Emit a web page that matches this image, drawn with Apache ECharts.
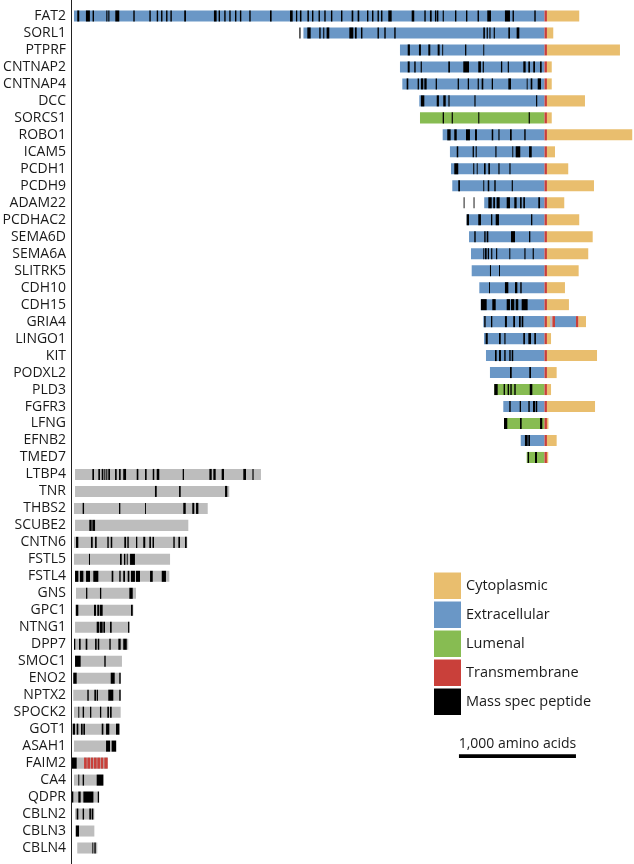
<!DOCTYPE html>
<html>
<head>
<meta charset="utf-8">
<script src="https://cdn.jsdelivr.net/npm/echarts@6/dist/echarts.min.js"></script>
<style>
html,body{margin:0;padding:0;background:#fff;}
#chart{width:634px;height:864px;}
</style>
</head>
<body>
<div id="chart"></div>
<script>
// ---- Proteins (rows) ----
const tmProteins = ['FAT2','SORL1','PTPRF','CNTNAP2','CNTNAP4','DCC','SORCS1','ROBO1','ICAM5','PCDH1','PCDH9','ADAM22','PCDHAC2','SEMA6D','SEMA6A','SLITRK5','CDH10','CDH15','GRIA4','LINGO1','KIT','PODXL2','PLD3','FGFR3','LFNG','EFNB2','TMED7'];
const secretedProteins = ['LTBP4','TNR','THBS2','SCUBE2','CNTN6','FSTL5','FSTL4','GNS','GPC1','NTNG1','DPP7','SMOC1','ENO2','NPTX2','SPOCK2','GOT1','ASAH1','FAIM2','CA4','QDPR','CBLN2','CBLN3','CBLN4'];
const categories = tmProteins.concat(secretedProteins);

// Axis in amino acids: membrane proteins relative to transmembrane start (0);
// secreted proteins counted from their N-terminus at the axis origin.
const AXIS_MIN = -4038;
const AXIS_MAX = 765;
const SECRETED_ORIGIN = -4038;
const scaleBar = [-731, 1000]; // start, length (amino acids)

// ---- Domains [protein, start, end] ----
const extracellular = [
  ['FAT2',-4021,0],['SORL1',-2060,0],['PTPRF',-1235,0],['CNTNAP2',-1235,0],['CNTNAP4',-1215,0],
  ['DCC',-1070,0],['ROBO1',-870,0],['ICAM5',-808,0],['PCDH1',-799,0],['PCDH9',-788,0],
  ['ADAM22',-515,0],['PCDHAC2',-665,0],['SEMA6D',-645,0],['SEMA6A',-628,0],['SLITRK5',-622,0],
  ['CDH10',-557,0],['CDH15',-545,0],['GRIA4',-523,0],['GRIA4',90,269],['LINGO1',-517,0],
  ['KIT',-500,0],['PODXL2',-466,0],['FGFR3',-352,0],['EFNB2',-203,0]
];
const lumenal = [['SORCS1',-1064,0],['PLD3',-429,0],['LFNG',-346,0],['TMED7',-152,0]];
const cytoplasmic = [
  ['FAT2',21,297],['SORL1',21,75],['PTPRF',21,645],['CNTNAP2',21,62],['CNTNAP4',21,62],
  ['DCC',21,346],['SORCS1',21,62],['ROBO1',21,750],['ICAM5',21,90],['PCDH1',21,203],
  ['PCDH9',21,423],['ADAM22',21,169],['PCDHAC2',21,297],['SEMA6D',21,412],['SEMA6A',21,374],
  ['SLITRK5',21,292],['CDH10',21,175],['CDH15',21,209],['GRIA4',21,47],['GRIA4',289,355],
  ['LINGO1',21,56],['KIT',21,449],['PODXL2',21,104],['PLD3',21,56],['FGFR3',21,432],
  ['LFNG',21,34],['EFNB2',21,104],['TMED7',21,32]
];
const transmembrane = tmProteins.map(n => [n,0,21]).concat([
  ['GRIA4',67,90],['GRIA4',269,289],
  ['FAIM2',103,126],['FAIM2',131,154],['FAIM2',160,182],['FAIM2',188,211],['FAIM2',216,239],['FAIM2',245,268],['FAIM2',276,305]
]);
const otherRegion = [
  ['GRIA4',47,67],
  ['LTBP4',26,1615],['TNR',26,1344],['THBS2',17,1160],['SCUBE2',26,994],['CNTN6',17,985],
  ['FSTL5',17,838],['FSTL4',26,832],['GNS',34,547],['GPC1',26,524],['NTNG1',26,490],
  ['DPP7',17,481],['SMOC1',26,427],['ENO2',11,416],['NPTX2',11,416],['SPOCK2',17,416],
  ['GOT1',6,410],['ASAH1',17,382],['FAIM2',0,305],['CA4',17,268],['QDPR',0,233],
  ['CBLN2',26,191],['CBLN3',26,191],['CBLN4',45,216]
];

// ---- Mass spec peptides [start, end] per protein ----
const peptides = {
  FAT2: [[-3993,-3976],[-3919,-3885],[-3862,-3850],[-3745,-3735],[-3728,-3718],[-3668,-3634],[-3514,-3502],[-3377,-3365],[-3314,-3302],[-3277,-3265],[-3234,-3222],[-3197,-3185],[-3079,-3064],[-2825,-2802],[-2785,-2773],[-2737,-2725],[-2694,-2682],[-2645,-2633],[-2603,-2591],[-2523,-2511],[-2346,-2332],[-2175,-2152],[-2124,-2113],[-2090,-2077],[-2026,-2013],[-1987,-1975],[-1931,-1919],[-1882,-1870],[-1825,-1813],[-1739,-1727],[-1648,-1634],[-1597,-1583],[-1517,-1505],[-1474,-1462],[-1427,-1415],[-1397,-1385],[-1335,-1306],[-1135,-1113],[-1027,-1015],[-979,-964],[-936,-924],[-919,-907],[-870,-860],[-765,-753],[-671,-659],[-572,-560],[-489,-457],[-338,-295],[-273,-261],[-87,-75]],
  SORL1: [[-2095,-2085],[-2027,-1998],[-1925,-1913],[-1891,-1882],[-1862,-1839],[-1668,-1634],[-1620,-1605],[-1568,-1556],[-1427,-1415],[-1369,-1357],[-1284,-1272],[-523,-509],[-494,-484],[-471,-461],[-434,-424],[-309,-295],[-238,-215]],
  PTPRF: [[-1169,-1150],[-1073,-1056],[-993,-976],[-913,-896],[-874,-866],[-679,-668],[-523,-515]],
  CNTNAP2: [[-1169,-1152],[-1113,-1101],[-1058,-1048],[-822,-808],[-694,-645],[-566,-543],[-528,-518],[-372,-361],[-314,-304],[-181,-161],[-138,-124],[-96,-81],[-38,-24]],
  CNTNAP4: [[-1178,-1164],[-1084,-1073],[-1056,-1036],[-1027,-1007],[-930,-919],[-742,-731],[-656,-645],[-571,-561],[-537,-523],[-451,-440],[-309,-286],[-152,-144],[-118,-104],[-58,-30]],
  DCC: [[-1056,-1027],[-921,-902],[-865,-844],[-821,-811],[-599,-589],[-72,-62]],
  SORCS1: [[-870,-859],[-793,-783],[-566,-557],[-135,-125]],
  ROBO1: [[-831,-802],[-771,-750],[-671,-637],[-594,-577],[-451,-438],[-394,-384],[-295,-280],[-173,-161]],
  ICAM5: [[-750,-737],[-614,-603],[-588,-579],[-420,-410],[-275,-267],[-246,-207],[-132,-109]],
  PCDH1: [[-771,-737],[-609,-600],[-579,-571],[-517,-503],[-480,-466],[-394,-384],[-300,-290]],
  PCDH9: [[-737,-722],[-523,-515],[-485,-472],[-429,-417],[-280,-270]],
  ADAM22: [[-691,-684],[-606,-599],[-480,-451],[-438,-423],[-409,-383],[-323,-295],[-258,-238],[-209,-195],[-181,-167],[-53,-38]],
  PCDHAC2: [[-665,-645],[-566,-543],[-457,-446],[-417,-389],[-115,-104]],
  SEMA6D: [[-600,-588],[-515,-503],[-494,-480],[-286,-252],[-132,-121]],
  SEMA6A: [[-523,-515],[-509,-494],[-485,-474],[-456,-446],[-414,-404],[-301,-292],[-172,-162],[-101,-91]],
  SLITRK5: [[-466,-457],[-389,-380]],
  CDH10: [[-474,-466],[-338,-309],[-252,-232],[-207,-195]],
  CDH15: [[-543,-494],[-446,-417],[-323,-295],[-286,-258],[-246,-224],[-195,-144]],
  GRIA4: [[-515,-503],[-457,-446],[-338,-321],[-267,-252],[-218,-203],[-195,-181]],
  LINGO1: [[-503,-485],[-389,-374],[-343,-333],[-181,-167],[-138,-115],[-87,-73]],
  KIT: [[-423,-409],[-389,-372],[-344,-332],[-301,-289],[-280,-267]],
  PODXL2: [[-295,-280],[-130,-115]],
  PLD3: [[-429,-400],[-349,-338],[-315,-303],[-292,-280],[-258,-246],[-126,-104]],
  FGFR3: [[-301,-289],[-212,-201],[-138,-126],[-98,-81],[-75,-62]],
  LFNG: [[-346,-318],[-209,-195],[-38,-19]],
  EFNB2: [[-167,-144],[-138,-124]],
  TMED7: [[-144,-132],[-81,-64]],
  LTBP4: [[174,188],[225,239],[254,268],[276,285],[293,302],[310,325],[368,382],[402,416],[438,462],[553,567],[624,638],[690,703],[724,746],[946,957],[1174,1194],[1208,1228],[1279,1299],[1464,1487],[1542,1552]],
  TNR: [[709,724],[915,929],[1308,1327]],
  THBS2: [[91,103],[402,413],[624,632],[951,972],[1028,1045],[1060,1080]],
  SCUBE2: [[148,168],[174,197]],
  CNTN6: [[34,54],[162,177],[197,211],[302,314],[331,344],[447,462],[473,485],[547,558],[609,626],[661,675],[688,701],[866,878],[909,923],[966,980]],
  FSTL5: [[145,154],[410,425],[444,456],[468,476],[496,538]],
  FSTL4: [[26,54],[68,97],[120,154],[182,225],[339,353],[404,416],[438,453],[476,490],[504,538],[547,581],[667,690],[767,803]],
  GNS: [[120,131],[239,250],[490,519]],
  GPC1: [[34,54],[188,205],[216,233],[239,262],[504,519]],
  NTNG1: [[211,233],[239,262],[268,282],[325,339],[479,490]],
  DPP7: [[17,28],[60,74],[117,131],[197,211],[220,233],[319,331],[396,416],[438,468]],
  SMOC1: [[26,74],[276,288]],
  ENO2: [[11,40],[331,365],[404,416]],
  NPTX2: [[131,143],[191,205],[211,222],[310,353],[404,416]],
  SPOCK2: [[54,62],[91,103],[154,165],[239,250],[302,316],[325,339]],
  GOT1: [[6,26],[40,54],[77,91],[97,111],[254,268],[291,319],[376,404]],
  ASAH1: [[291,325],[339,376]],
  FAIM2: [[0,40]],
  CA4: [[54,62],[91,103],[211,268]],
  QDPR: [[0,11],[54,74],[97,183],[220,231]],
  CBLN2: [[40,54],[91,103],[148,162],[168,182]],
  CBLN3: [[34,60]],
  CBLN4: [[174,182],[191,203]]
};

// ---- Colours ----
const COLORS = {
  Cytoplasmic: '#E9BE6E',
  Extracellular: '#6A97C6',
  Lumenal: '#87BC52',
  Transmembrane: '#C9403A',
  Peptide: '#000000',
  Other: '#BDBDBD'
};

function build(list) {
  return list.map(([n, s, e]) => {
    const off = secretedProteins.includes(n) ? SECRETED_ORIGIN : 0;
    return [categories.indexOf(n), s + off, e + off];
  });
}
const peptideList = [];
Object.keys(peptides).forEach(n => peptides[n].forEach(([s, e]) => peptideList.push([n, s, e])));

function renderItem(params, api) {
  const row = api.value(0);
  const p0 = api.coord([api.value(1), row]);
  const p1 = api.coord([api.value(2), row]);
  const h = api.size([0, 1])[1] * 0.65;
  return {
    type: 'rect',
    shape: { x: p0[0], y: p0[1] - h / 2, width: Math.max(p1[0] - p0[0], 0.9), height: h },
    style: api.style()
  };
}
function makeSeries(name, list, color) {
  return {
    type: 'custom', name: name, renderItem: renderItem,
    itemStyle: { color: color },
    encode: { x: [1, 2], y: 0 },
    data: build(list),
    animation: false, silent: true
  };
}

const chart = echarts.init(document.getElementById('chart'), null, { renderer: 'canvas' });
chart.setOption({
  animation: false,
  color: [COLORS.Other, COLORS.Extracellular, COLORS.Lumenal, COLORS.Cytoplasmic, COLORS.Transmembrane, COLORS.Peptide],
  grid: { left: 72, right: 0, top: 7.5, bottom: 7.5, containLabel: false, outerBoundsMode: 'none' },
  xAxis: { type: 'value', min: AXIS_MIN, max: AXIS_MAX, show: false },
  yAxis: {
    type: 'category', data: categories, inverse: true,
    axisLine: { show: false }, axisTick: { show: false }, splitLine: { show: false },
    axisLabel: { fontSize: 14, color: '#1a1a1a', fontFamily: 'Open Sans', margin: 6, interval: 0 }
  },
  legend: {
    data: ['Cytoplasmic', 'Extracellular', 'Lumenal', 'Transmembrane', 'Mass spec peptide'],
    orient: 'vertical', left: 434, top: 572.5, padding: 0,
    itemWidth: 27, itemHeight: 26.5, itemGap: 2.5, icon: 'rect', selectedMode: false,
    textStyle: { fontSize: 14.5, color: '#1a1a1a', fontFamily: 'Open Sans' }
  },
  series: [
    makeSeries('Other', otherRegion, COLORS.Other),
    makeSeries('Extracellular', extracellular, COLORS.Extracellular),
    makeSeries('Lumenal', lumenal, COLORS.Lumenal),
    makeSeries('Cytoplasmic', cytoplasmic, COLORS.Cytoplasmic),
    makeSeries('Transmembrane', transmembrane, COLORS.Transmembrane),
    makeSeries('Mass spec peptide', peptideList, COLORS.Peptide)
  ]
});

// Scale bar and left axis line
const x0 = chart.convertToPixel({ xAxisIndex: 0 }, scaleBar[0]);
const x1 = chart.convertToPixel({ xAxisIndex: 0 }, scaleBar[0] + scaleBar[1]);
chart.setOption({
  graphic: [
    { type: 'line', shape: { x1: 71.5, y1: 0, x2: 71.5, y2: 864 }, style: { stroke: '#222', lineWidth: 1 }, silent: true },
    { type: 'rect', shape: { x: x0, y: 754.3, width: x1 - x0, height: 3.6 }, style: { fill: '#000' }, silent: true },
    { type: 'text', x: (x0 + x1) / 2, y: 744, style: { text: '1,000 amino acids', fontSize: 14, fontFamily: 'Open Sans', fill: '#1a1a1a', align: 'center', verticalAlign: 'middle' }, silent: true }
  ]
});
</script>
</body>
</html>
